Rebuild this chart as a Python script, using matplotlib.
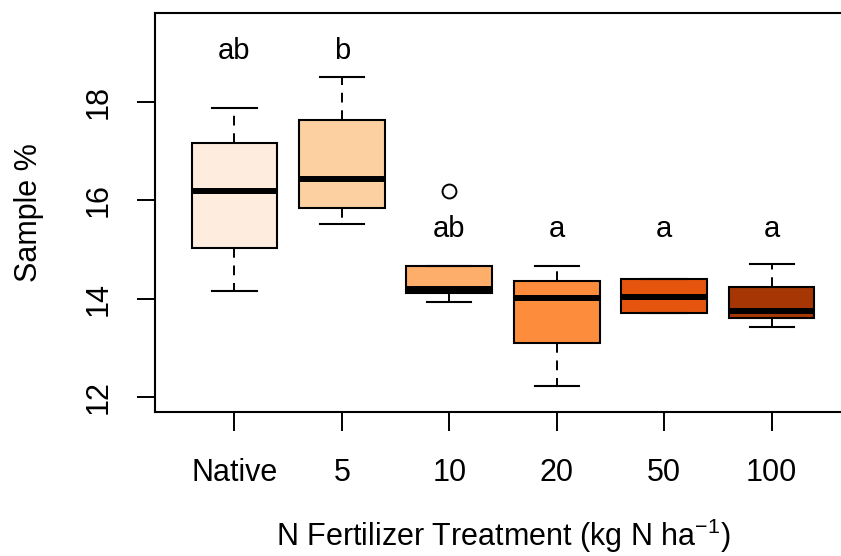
import matplotlib
matplotlib.use("Agg")
import matplotlib.pyplot as plt

plt.rcParams['font.family'] = ['Liberation Sans', 'DejaVu Sans']
plt.rcParams['mathtext.fontset'] = 'custom'
plt.rcParams['mathtext.rm'] = 'Liberation Sans'

treatments = ['Native', '5', '10', '20', '50', '100']
whisker_low = [14.15, 15.51, 13.93, 12.22, 13.70, 13.42]
q1 = [15.02, 15.85, 14.11, 13.10, 13.70, 13.60]
medians = [16.18, 16.44, 14.19, 14.01, 14.03, 13.76]
q3 = [17.17, 17.62, 14.66, 14.35, 14.39, 14.23]
whisker_high = [17.88, 18.51, 14.66, 14.66, 14.40, 14.70]
outliers = [[], [], [16.18], [], [], []]
letters = ['ab', 'b', 'ab', 'a', 'a', 'a']
letter_y = [18.86, 18.86, 15.25, 15.25, 15.25, 15.25]
colors = ['#FEEDDE', '#FDD0A2', '#FDAE6B', '#FD8D3C', '#E6550D', '#A63603']


def main():
    fig = plt.figure(figsize=(8.41, 5.56), dpi=100)
    ax = fig.add_axes([155 / 841, 144 / 556, 696 / 841, 399 / 556])

    stats = []
    for i in range(len(treatments)):
        stats.append({'med': medians[i], 'q1': q1[i], 'q3': q3[i],
                      'whislo': whisker_low[i], 'whishi': whisker_high[i],
                      'fliers': outliers[i]})
    pos = list(range(1, len(treatments) + 1))
    bp = ax.bxp(stats, positions=pos, widths=0.8, patch_artist=True,
                boxprops=dict(linewidth=1.5, edgecolor='black'),
                medianprops=dict(color='black', linewidth=4.3, solid_capstyle='butt'),
                whiskerprops=dict(color='black', linewidth=1.4, linestyle=(0, (5, 4))),
                capprops=dict(color='black', linewidth=1.5),
                flierprops=dict(marker='o', markerfacecolor='none', markeredgecolor='black',
                                markersize=10, markeredgewidth=1.4),
                capwidths=0.41)
    for patch, c in zip(bp['boxes'], colors):
        patch.set_facecolor(c)

    for i, t in enumerate(letters):
        ax.text(pos[i], letter_y[i], t, ha='center', va='baseline', fontsize=21)

    ax.set_xlim(0.26, 6.74)
    ax.set_ylim(11.7, 19.8)
    ax.set_yticks([12, 14, 16, 18])
    ax.set_xticks(pos)
    ax.set_xticklabels(treatments)
    for s in ax.spines.values():
        s.set_linewidth(1.5)
    ax.tick_params(axis='x', length=13.7, width=1.4, pad=19.5, labelsize=22)
    ax.tick_params(axis='y', length=13, width=1.4, pad=17, labelsize=22)
    for lab in ax.get_yticklabels():
        lab.set_rotation(90)
        lab.set_va('center')
    ax.set_ylabel('Sample %', fontsize=22)
    ax.yaxis.set_label_coords(-0.16, 0.5)
    ax.set_xlabel(r'N Fertilizer Treatment (kg N ha$^{-1}$)', fontsize=22)
    ax.xaxis.set_label_coords(0.5, -0.263)

    fig.savefig('out.png', dpi=100)


if __name__ == '__main__':
    main()
